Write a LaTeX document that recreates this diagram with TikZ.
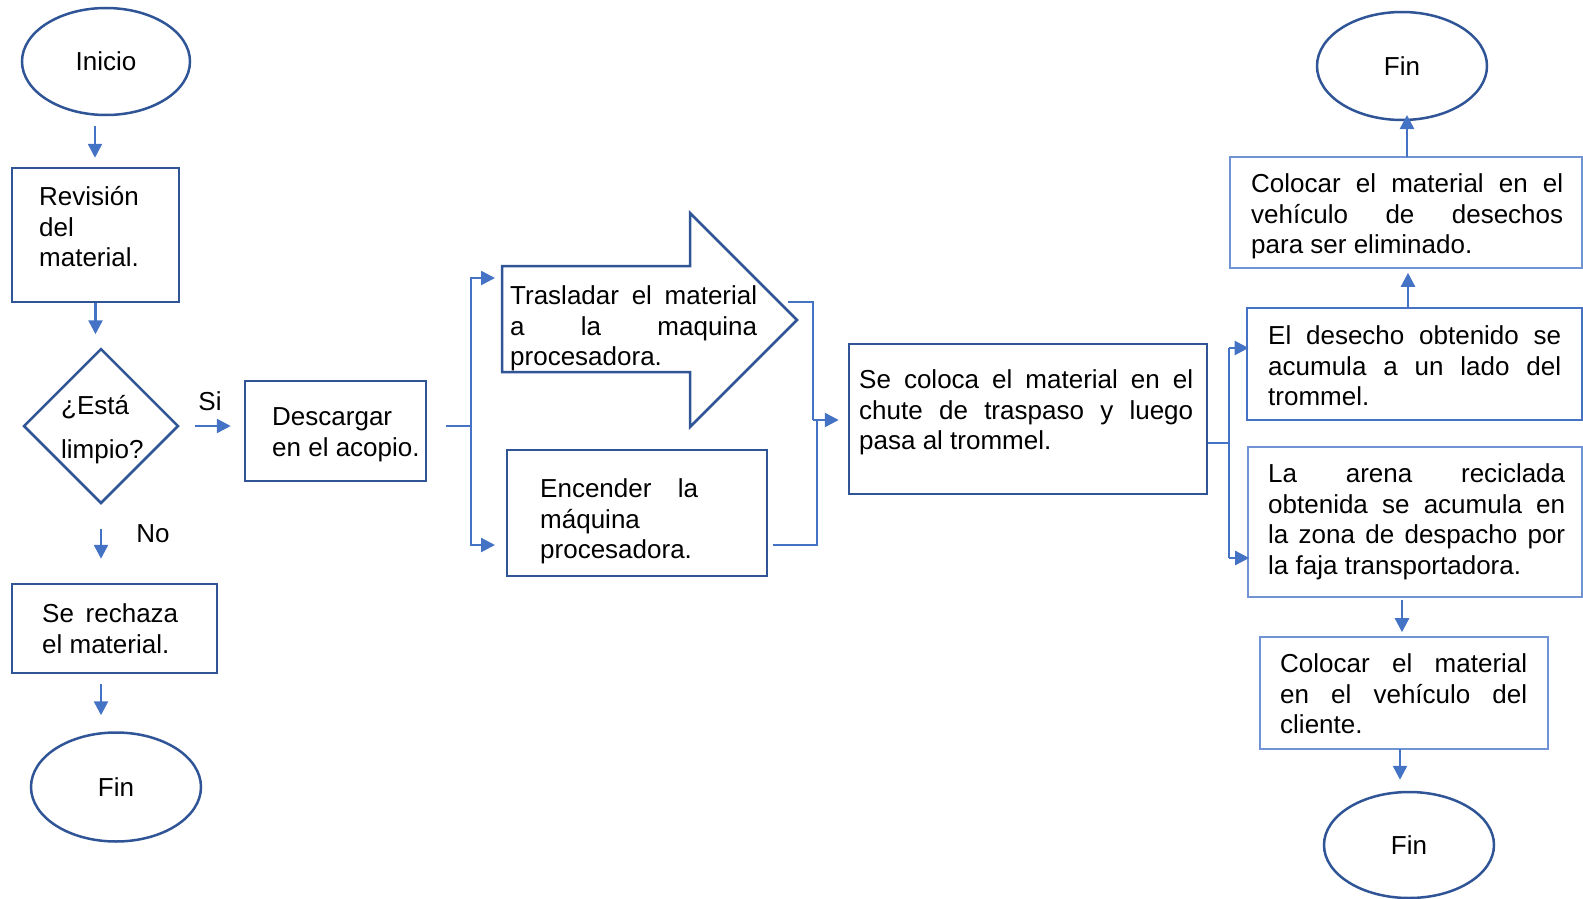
\documentclass[tikz,border=0pt]{standalone}
\usepackage{fontspec}
\setmainfont{Liberation Sans}
\usetikzlibrary{shapes.geometric, arrows.meta}
\definecolor{dkb}{HTML}{2F5597}
\definecolor{cnb}{HTML}{4472C4}
\definecolor{ltb}{HTML}{6F93D5}
\newcommand{\jl}[2]{\makebox[#1pt][s]{\strut #2}}
\newcommand{\pl}[1]{\strut #1}
\begin{document}
\begin{tikzpicture}[x=1pt,y=-1pt,
  box/.style={draw=dkb, line width=2.5pt, rectangle, inner sep=0pt},
  lbox/.style={draw=ltb, line width=1.6pt, rectangle, inner sep=0pt},
  mbox/.style={draw=cnb, line width=2.8pt, rectangle, inner sep=0pt},
  oval/.style={draw=dkb, line width=2.5pt, ellipse, inner sep=0pt, font=\fontsize{26}{30.5}\selectfont},
  txt/.style={anchor=north west, inner sep=0pt, align=left, font=\fontsize{26}{30.5}\selectfont},
  lab/.style={inner sep=0pt, font=\fontsize{26}{30.5}\selectfont},
  conn/.style={draw=cnb, line width=2.5pt},
  arr/.style={conn, -{Triangle[length=14pt,width=14pt]}}]
\useasboundingbox (0,0) rectangle (1583,899);

% ---------- left column ----------
\node[oval, minimum width=168pt, minimum height=107pt] (inicio) at (106,61.5) {Inicio};
\node[box, minimum width=167pt, minimum height=134pt] (rev) at (95.5,235) {};
\node[txt] (trev) at (39,184) {\pl{Revisión}\\\pl{del}\\\pl{material.}};
\node[draw=dkb, line width=2.5pt, diamond, inner sep=0pt, minimum width=155pt, minimum height=155pt] (dia) at (101,426) {};
\node[txt] (tdia) at (61,393) {\pl{¿Está}\\[13.5pt]\pl{limpio?}};
\node[box, minimum width=181pt, minimum height=100pt] (desc) at (335.5,431) {};
\node[txt] (tdesc) at (272,404) {\pl{Descargar}\\\pl{en el acopio.}};
\node[lab] (si) at (210,401) {Si};
\node[lab] (no) at (153,534) {No};
\node[box, minimum width=205pt, minimum height=89pt] (rech) at (114.5,628.5) {};
\node[txt] (trech) at (42,601) {\jl{136}{Se rechaza}\\\pl{el material.}};
\node[oval, minimum width=170pt, minimum height=109pt] (fin1) at (116,787) {Fin};

\coordinate (c1) at (95,126);
\draw[arr, shorten >=9pt] (c1) -- (c1 |- rev.north);
\draw[arr, shorten >=13pt] (rev.south) -- (rev.south |- dia.north);
\draw[arr, shorten <=15pt, shorten >=13pt] (dia.east) -- (dia.east -| desc.west);
\draw[arr, shorten <=24pt, shorten >=24pt] (dia.south) -- (dia.south |- rech.north);
\coordinate (c5) at (101,684);
\draw[arr, shorten >=16pt] (c5) -- (c5 |- fin1.north);

% ---------- middle ----------
\draw[draw=dkb, line width=2.5pt, line join=miter]
  (502,266) coordinate (trasw) -- (690,266) -- (690,213) -- (797,320) coordinate (trastip)
  -- (690,427) -- (690,372) -- (502,372) -- cycle;
\node[txt] (ttras) at (510,283) {\jl{247}{Trasladar el material}\\\jl{247}{a la maquina}\\\pl{procesadora.}};
\node[box, minimum width=260pt, minimum height=126pt] (enc) at (637,513) {};
\node[txt] (tenc) at (540,476) {\jl{158}{Encender la}\\\pl{máquina}\\\pl{procesadora.}};

\coordinate (s1) at (446,426);
\coordinate (j1) at (471,426);
\coordinate (t1) at (495,278);
\coordinate (t2) at (495,545);
\draw[conn] (s1) -- (j1);
\draw[arr] (j1) |- (t1);
\draw[arr] (j1) |- (t2);

\node[box, minimum width=358pt, minimum height=150pt] (coloca) at (1028,419) {};
\node[txt] (tcoloca) at (859,367) {\jl{334}{Se coloca el material en el}\\\jl{334}{chute de traspaso y luego}\\\pl{pasa al trommel.}};

\coordinate (u1) at (788,302);
\coordinate (u2) at (813,420);
\coordinate (l1) at (773,545);
\coordinate (l2) at (817,420);
\draw[conn] (u1) -| (u2);
\draw[conn] (l1) -| (l2);
\draw[arr, shorten >=9pt] (u2) -- (u2 -| coloca.west);

% ---------- right column ----------
\node[mbox, minimum width=335pt, minimum height=112pt] (dese) at (1414.5,364) {};
\node[txt] (tdese) at (1268,323) {\jl{293}{El desecho obtenido se}\\\jl{293}{acumula a un lado del}\\\pl{trommel.}};
\node[lbox, minimum width=334pt, minimum height=150pt] (arena) at (1415,522) {};
\node[txt] (tarena) at (1268,461) {\jl{297}{La arena reciclada}\\\jl{297}{obtenida se acumula en}\\\jl{297}{la zona de despacho por}\\\pl{la faja transportadora.}};
\node[lbox, minimum width=352pt, minimum height=111pt] (coltop) at (1406,212.5) {};
\node[txt] (tcoltop) at (1251,171) {\jl{312}{Colocar el material en el}\\\jl{312}{vehículo de desechos}\\\pl{para ser eliminado.}};
\node[oval, minimum width=170pt, minimum height=108pt] (fin2) at (1402,66) {Fin};
\node[lbox, minimum width=288pt, minimum height=112pt] (colcli) at (1404,693) {};
\node[txt] (tcolcli) at (1280,651) {\jl{247}{Colocar el material}\\\jl{247}{en el vehículo del}\\\pl{cliente.}};
\node[oval, minimum width=170pt, minimum height=106pt] (fin3) at (1409,845) {Fin};

\coordinate (r1) at (1229,443);
\draw[conn] (r1 -| coloca.east) -- (r1);
\coordinate (r2) at (1229,348);
\coordinate (r3) at (1229,558);
\draw[conn] (r2) -- (r3);
\draw[arr, shorten >=-3pt] (r2) -- (r2 -| dese.west);
\draw[arr, shorten >=-2pt] (r3) -- (r3 -| arena.west);

\coordinate (v1) at (1408,308);
\draw[arr, shorten >=4pt] (v1) -- (v1 |- coltop.south);
\coordinate (v2) at (1407,157);
\draw[arr] (v2) -- (1407,115) coordinate (v2e);
\coordinate (v3) at (1402,600);
\draw[arr, shorten >=4pt] (v3) -- (v3 |- colcli.north);
\coordinate (v4) at (1400,749);
\draw[arr, shorten >=11pt] (v4) -- (v4 |- fin3.north);
\end{tikzpicture}
\end{document}
